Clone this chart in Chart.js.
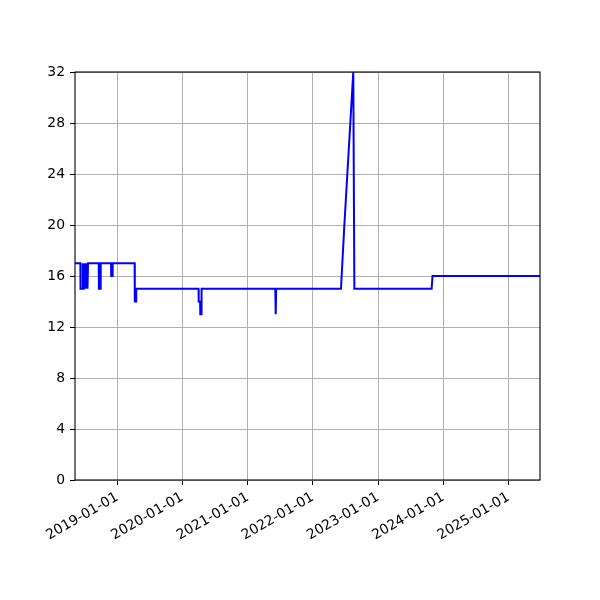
<!DOCTYPE html>
<html>
<head>
<meta charset="utf-8">
<script src="https://cdn.jsdelivr.net/npm/chart.js@4.4.0/dist/chart.umd.min.js"></script>
<style>
  body { margin: 0; background: #fff; }
  canvas { display: block; }
</style>
</head>
<body>
<canvas id="myChart" width="600" height="600"></canvas>
<script>
// change points of the series
const dates = [
  '2018-05-09', '2018-06-08', '2018-06-09', '2018-06-21', '2018-06-22', '2018-06-24',
  '2018-06-26', '2018-06-28', '2018-07-01', '2018-07-03', '2018-07-06', '2018-07-08',
  '2018-07-11', '2018-07-13', '2018-07-16', '2018-07-18', '2018-07-21', '2018-09-19',
  '2018-09-20', '2018-09-29', '2018-09-30', '2018-11-27', '2018-11-28', '2018-12-05',
  '2018-12-06', '2019-04-08', '2019-04-09', '2019-04-16', '2019-04-17', '2020-03-31',
  '2020-04-01', '2020-04-09', '2020-04-10', '2020-04-16', '2020-04-17', '2021-06-04',
  '2021-06-05', '2021-06-08', '2021-06-09', '2022-06-07', '2022-06-26', '2022-08-15',
  '2022-08-21', '2023-10-28', '2023-11-02', '2025-06-26'
];
const values = [
  17, 17, 15, 15, 17, 15,
  17, 15, 17, 15, 17, 15,
  17, 15, 17, 15, 17, 17,
  15, 15, 17, 17, 16, 16,
  17, 17, 14, 14, 15, 15,
  14, 14, 13, 13, 15, 15,
  13, 13, 15, 15, 20, 32,
  15, 15, 16, 16
];
const xTickDates = ['2019-01-01', '2020-01-01', '2021-01-01', '2022-01-01', '2023-01-01', '2024-01-01', '2025-01-01'];
const yTicks = [0, 4, 8, 12, 16, 20, 24, 28, 32];
const xMin = '2018-05-09';
const xMax = '2025-06-26';

const points = dates.map((d, i) => ({ x: Date.parse(d), y: values[i] }));

const frame = {
  id: 'frame',
  afterDatasetsDraw(chart) {
    const a = chart.chartArea;
    const ctx = chart.ctx;
    ctx.save();
    ctx.strokeStyle = '#000';
    ctx.lineWidth = 1.1;
    ctx.strokeRect(a.left, a.top, a.right - a.left, a.bottom - a.top);
    ctx.restore();
  }
};

Chart.defaults.font.family = 'DejaVu Sans';
Chart.defaults.font.size = 13.9;
Chart.defaults.color = '#000';

const ctx = document.getElementById('myChart').getContext('2d');
const myChart = new Chart(ctx, {
  type: 'line',
  data: {
    datasets: [{
      data: points,
      borderColor: '#0000ff',
      borderWidth: 2,
      pointRadius: 0,
      tension: 0,
      fill: false
    }]
  },
  options: {
    responsive: false,
    animation: false,
    devicePixelRatio: 1,
    layout: { padding: { top: 72, right: 60, left: 0, bottom: 0 } },
    plugins: { legend: { display: false }, tooltip: { enabled: false } },
    scales: {
      x: {
        type: 'linear',
        min: Date.parse(xMin),
        max: Date.parse(xMax),
        afterBuildTicks: (scale) => {
          scale.ticks = xTickDates.map(d => ({ value: Date.parse(d) }));
        },
        afterFit: (scale) => { scale.height = 120; },
        ticks: {
          autoSkip: false,
          minRotation: 30,
          maxRotation: 30,
          padding: 4,
          callback: (v) => new Date(v).toISOString().slice(0, 10)
        },
        grid: { color: '#b0b0b0', lineWidth: 1, tickColor: '#000', tickLength: 5 },
        border: { display: false }
      },
      y: {
        min: 0,
        max: 32,
        afterBuildTicks: (scale) => {
          scale.ticks = yTicks.map(v => ({ value: v }));
        },
        afterFit: (scale) => { scale.width = 75; },
        ticks: { padding: 5 },
        grid: { color: '#b0b0b0', lineWidth: 1, tickColor: '#000', tickLength: 5 },
        border: { display: false }
      }
    }
  },
  plugins: [frame]
});
</script>
</body>
</html>
